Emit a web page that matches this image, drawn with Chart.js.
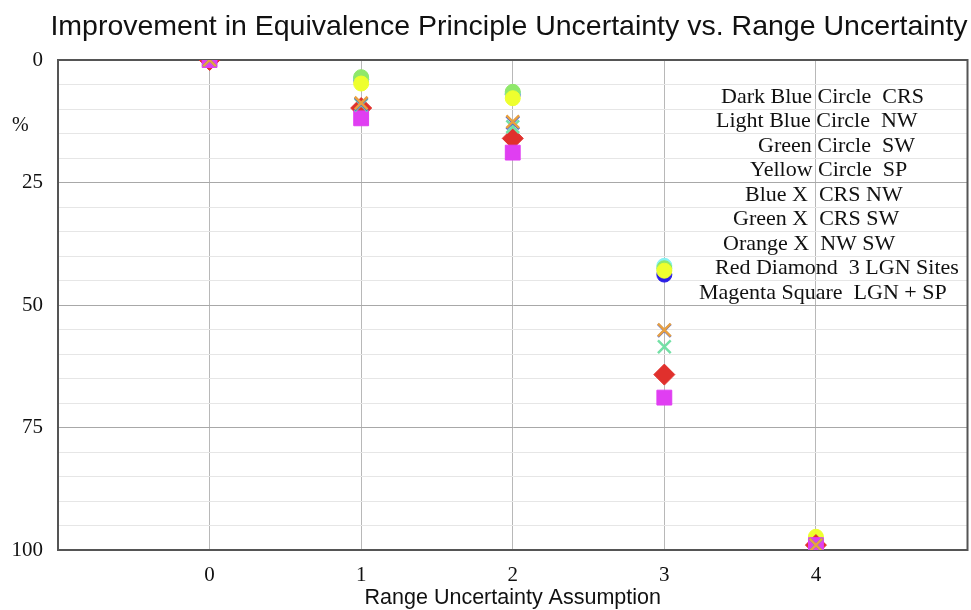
<!DOCTYPE html>
<html><head><meta charset="utf-8">
<script src="https://cdn.jsdelivr.net/npm/chart.js@4.4.0/dist/chart.umd.min.js"></script>
<style>html,body{margin:0;padding:0;background:#fff;overflow:hidden;}#wrap{width:971px;height:610px;overflow:hidden;}</style>
</head><body><div id="wrap"><canvas id="c" width="979" height="610"></canvas></div>
<script>
const xValues = [0, 1, 2, 3, 4];
const darkBlueCRS = [0, 4.0, 7.0, 43.8, 98.5];
const lightBlueNW = [0, 3.8, 6.8, 42.0, 98.0];
const greenSW = [0, 3.5, 6.5, 42.5, 97.8];
const yellowSP = [0, 4.8, 7.8, 43.0, 97.3];
const blueXCrsNw = [0, 9.0, 12.8, 55.2, 99.0];
const greenXCrsSw = [0, 9.2, 13.6, 58.5, 99.0];
const orangeXNwSw = [0, 8.8, 12.6, 55.1, 99.0];
const redDiamond3Lgn = [0, 9.8, 16.0, 64.2, 99.0];
const magentaSquareLgnSp = [0, 11.9, 18.9, 68.9, 99.0];
const xTickLabels = ['0', '1', '2', '3', '4'];
const yTickLabels = ['0', '25', '50', '75', '100'];
const legendLines = [
  'Dark Blue Circle  CRS',
  'Light Blue Circle  NW',
  'Green Circle  SW',
  'Yellow Circle  SP',
  'Blue X  CRS NW',
  'Green X  CRS SW',
  'Orange X  NW SW',
  'Red Diamond  3 LGN Sites',
  'Magenta Square  LGN + SP'
];
const chartTitle = 'Improvement in Equivalence Principle Uncertainty vs. Range Uncertainty';
const xAxisTitle = 'Range Uncertainty Assumption';
const yAxisUnit = '%';

function pts(arr) { return xValues.map((x, i) => ({x: x, y: arr[i]})); }
function ds(label, arr, color, style, radius, order, bw) {
  return { label, data: pts(arr), pointStyle: style, pointRadius: radius, pointHoverRadius: radius,
    backgroundColor: color, borderColor: color, pointBorderWidth: bw, order, clip: 0 };
}

const legendStartX = [721, 716, 758, 750, 745, 733, 723, 715, 699];

const textPlugin = {
  id: 'texts',
  beforeDatasetsDraw(chart) {
    const {ctx, chartArea: a} = chart;
    ctx.save();
    ctx.strokeStyle = '#555';
    ctx.lineWidth = 2;
    ctx.strokeRect(a.left, a.top, a.right - a.left, a.bottom - a.top);
    ctx.restore();
  },
  afterDraw(chart) {
    const {ctx} = chart;
    const ys = chart.scales.y;
    ctx.save();
    ctx.fillStyle = '#111';
    ctx.textBaseline = 'middle';
    ctx.textAlign = 'center';
    ctx.font = '28.5px "Liberation Sans", Arial, sans-serif';
    ctx.fillText(chartTitle, 509, 27);
    ctx.font = '20px "Liberation Serif", "Times New Roman", serif';
    ctx.textAlign = 'left';
    ctx.fillText(yAxisUnit, 12, 126);
    ctx.font = '22px "Liberation Serif", "Times New Roman", serif';
    legendLines.forEach((t, i) => {
      ctx.fillText(t, legendStartX[i], ys.getPixelForValue(7.5 + 5 * i));
    });
    ctx.restore();
  }
};

new Chart(document.getElementById('c'), {
  type: 'scatter',
  data: { datasets: [
    ds('Dark Blue Circle CRS', darkBlueCRS, '#2b1fe6', 'circle', 7.5, 9, 1),
    ds('Light Blue Circle NW', lightBlueNW, '#86f2f2', 'circle', 7.5, 8, 1),
    ds('Green Circle SW', greenSW, '#8fe86a', 'circle', 7.5, 7, 1),
    ds('Yellow Circle SP', yellowSP, '#eeff2e', 'circle', 7.5, 6, 1),
    ds('Red Diamond 3 LGN Sites', redDiamond3Lgn, '#e0302c', 'rectRot', 10.5, 5, 1),
    ds('Magenta Square LGN + SP', magentaSquareLgnSp, '#e03ef2', 'rect', 10.5, 4, 1),
    ds('Green X CRS SW', greenXCrsSw, '#74e0a6', 'crossRot', 9, 3, 2.5),
    ds('Blue X CRS NW', blueXCrsNw, '#4060e0', 'crossRot', 9, 2, 2.5),
    ds('Orange X NW SW', orangeXNwSw, '#e8a040', 'crossRot', 9, 1, 2.5)
  ]},
  options: {
    responsive: false, animation: false, devicePixelRatio: 1,
    layout: { padding: { top: 60, right: 3, left: 0, bottom: 0 } },
    plugins: { legend: { display: false }, tooltip: { enabled: false }, title: { display: false } },
    scales: {
      x: {
        type: 'linear', min: -1, max: 5,
        afterFit(s) { s.height = 60; s.paddingLeft = 0; s.paddingRight = 0; },
        ticks: { stepSize: 1, padding: 13, color: '#111', maxRotation: 0, autoSkip: false,
          font: { family: '"Liberation Serif", "Times New Roman", serif', size: 21 },
          callback: v => (v >= 0 && v <= 4) ? xTickLabels[v] : '' },
        grid: { drawTicks: false, lineWidth: 1,
          color: c => (c.tick && c.tick.value >= 0 && c.tick.value <= 4) ? '#b8b8b8' : 'rgba(0,0,0,0)' },
        border: { display: true, color: '#555', width: 2 },
        title: { display: true, text: xAxisTitle, color: '#111', padding: { top: 0, bottom: -1 },
          font: { family: '"Liberation Sans", Arial, sans-serif', size: 21.5 } }
      },
      y: {
        type: 'linear', min: 0, max: 100, reverse: true,
        afterFit(s) { s.width = 58; s.paddingTop = 0; s.paddingBottom = 0; },
        ticks: { stepSize: 5, padding: 15, color: '#111', autoSkip: false,
          font: { family: '"Liberation Serif", "Times New Roman", serif', size: 21 },
          callback: v => (v % 25 === 0) ? yTickLabels[v / 25] : '' },
        grid: { drawTicks: false, lineWidth: 1,
          color: c => (c.tick && c.tick.value % 25 === 0) ? '#a8a8a8' : '#e6e6e6' },
        border: { display: true, color: '#555', width: 2 }
      }
    }
  },
  plugins: [textPlugin]
});
</script></body></html>
